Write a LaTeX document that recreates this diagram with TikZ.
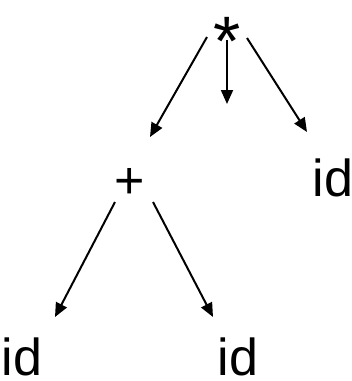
\documentclass[tikz,border=0pt]{standalone}
\usepackage{fontspec}
\setmainfont{Liberation Sans}
\usetikzlibrary{arrows.meta}
\begin{document}
\begin{tikzpicture}[x=0.5pt,y=-0.5pt,
		lbl/.style={font=\fontsize{26}{30}\selectfont,inner sep=0pt,anchor=base},
		arr/.style={line width=1pt,-{Triangle[length=7pt,width=6pt]}}]
		\useasboundingbox (0,0) rectangle (352,381);
		\node[lbl,font=\fontsize{35}{40}\selectfont] (star) at (227,65) {*};
		\node[lbl] (plus) at (130,198) {+};
		\node[lbl] (idr) at (333,196) {id};
		\node[lbl] (idll) at (22,375) {id};
		\node[lbl] (idlr) at (238,375) {id};
		\coordinate (mid) at (227,104);
		\draw[arr] ([shift={(-20,-28)}]star.base) to ([shift={(20,-61)}]plus.base);
		\draw[arr] ([shift={(0,-25)}]star.base) to (mid);
		\draw[arr] ([shift={(20,-27)}]star.base) to ([shift={(-26,-64)}]idr.base);
		\draw[arr] ([shift={(-15,4)}]plus.base) to ([shift={(33,-58)}]idll.base);
		\draw[arr] ([shift={(23,4)}]plus.base) to ([shift={(-25,-58)}]idlr.base);
	\end{tikzpicture}
\end{document}
